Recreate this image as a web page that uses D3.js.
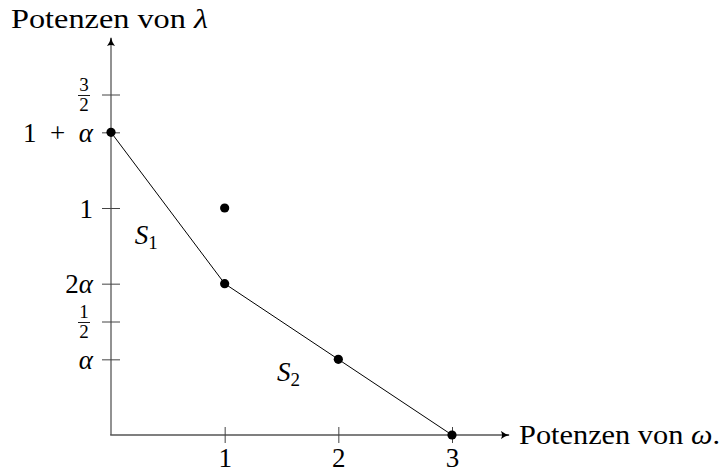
<!DOCTYPE html>
<html>
<head>
<meta charset="utf-8">
<script src="https://cdn.jsdelivr.net/npm/d3@7"></script>
<style>
  html, body { margin: 0; padding: 0; background: #fff; }
  svg { display: block; }
</style>
</head>
<body>
<script>
// Newton polygon data: exponents of omega (x) and lambda (y)
const alpha = 1 / 3;
const pointX = [0, 1, 1, 2, 3];
const pointY = [1 + alpha, 1, 2 * alpha, alpha, 0];
const hullX = [0, 1, 2, 3];
const hullY = [1 + alpha, 2 * alpha, alpha, 0];
const xTickValues = [1, 2, 3];
const xTickLabels = ["1", "2", "3"];
const yTickValues = [alpha, 0.5, 2 * alpha, 1, 1 + alpha, 1.5];
const yTickLabels = ["α", "1/2", "2α", "1", "1 + α", "3/2"];
const segLabels = ["S1", "S2"];
const segLabelX = [0.21, 1.46];
const segLabelY = [0.84, 0.24];

const SERIF = "Liberation Serif";
const W = 725, H = 475;
const svg = d3.select("body").append("svg").attr("width", W).attr("height", H)
  .attr("font-family", SERIF);

const x = d3.scaleLinear().domain([0, 3]).range([111, 452]);
const y = d3.scaleLinear().domain([0, 1]).range([435, 208]);

// arrow head shared by both axes
const defs = svg.append("defs");
defs.append("marker")
  .attr("id", "arr").attr("viewBox", "0 0 10 10")
  .attr("refX", 9).attr("refY", 5)
  .attr("markerWidth", 9).attr("markerHeight", 9)
  .attr("markerUnits", "userSpaceOnUse")
  .attr("orient", "auto")
  .append("path")
  .attr("d", "M0,0.5 Q4,4 10,5 Q4,6 0,9.5 Q2.5,5 0,0.5 Z")
  .attr("fill", "#000");

// axis lines
svg.append("line")
  .attr("x1", x(0)).attr("y1", y(0)).attr("x2", x(0)).attr("y2", 38)
  .attr("stroke", "#777").attr("stroke-width", 1.6)
  .attr("marker-end", "url(#arr)");
svg.append("line")
  .attr("x1", x(0) - 0.8).attr("y1", y(0)).attr("x2", 509).attr("y2", y(0))
  .attr("stroke", "#555").attr("stroke-width", 1.6)
  .attr("marker-end", "url(#arr)");

// y axis ticks through d3.axisLeft
const yAxis = svg.append("g")
  .attr("transform", `translate(${x(0)},0)`)
  .call(d3.axisLeft(y).tickValues(yTickValues).tickSize(8).tickFormat(() => ""));
yAxis.attr("font-family", SERIF);
yAxis.select(".domain").remove();
yAxis.selectAll(".tick line").attr("x1", -9).attr("x2", 9)
  .attr("stroke", "#444").attr("stroke-width", 1);
yAxis.selectAll(".tick text").remove();
yAxis.selectAll(".tick").each(function(d, i) {
  const g = d3.select(this);
  const lab = yTickLabels[i];
  if (lab.includes("/")) {
    const [num, den] = lab.split("/");
    g.append("text").attr("x", -27).attr("y", -4).attr("text-anchor", "middle")
      .attr("font-size", 19).attr("fill", "#000").text(num);
    g.append("line").attr("x1", -33).attr("x2", -21).attr("y1", 0.5).attr("y2", 0.5)
      .attr("stroke", "#000").attr("stroke-width", 0.9);
    g.append("text").attr("x", -27).attr("y", 16).attr("text-anchor", "middle")
      .attr("font-size", 19).attr("fill", "#000").text(den);
  } else {
    const t = g.append("text").attr("x", -18).attr("y", 9).attr("text-anchor", "end")
      .attr("font-size", 27).attr("fill", "#000");
    // alpha rendered in italic
    const parts = lab.split("α");
    t.append("tspan").text(parts[0]);
    if (parts.length > 1) t.append("tspan").attr("font-style", "italic").text("α");
    // the binary plus gets wider spacing
    if (lab.includes("+")) t.attr("textLength", 70).attr("lengthAdjust", "spacing");
  }
});

// x axis ticks through d3.axisBottom
const xAxis = svg.append("g")
  .attr("transform", `translate(0,${y(0)})`)
  .call(d3.axisBottom(x).tickValues(xTickValues).tickSize(8).tickFormat((d, i) => xTickLabels[i]));
xAxis.attr("font-family", SERIF).attr("font-size", 27);
xAxis.select(".domain").remove();
xAxis.selectAll(".tick line").attr("y1", -8).attr("y2", 8)
  .attr("stroke", "#444").attr("stroke-width", 1);
xAxis.selectAll(".tick text").attr("y", 32).attr("dy", 0).attr("fill", "#000");

// hull polyline
const line = d3.line().x(i => x(hullX[i])).y(i => y(hullY[i]));
svg.append("path")
  .attr("d", line(d3.range(hullX.length)))
  .attr("fill", "none").attr("stroke", "#000").attr("stroke-width", 1);

// points
svg.selectAll("circle.pt").data(d3.range(pointX.length)).join("circle")
  .attr("class", "pt")
  .attr("cx", i => x(pointX[i])).attr("cy", i => y(pointY[i]))
  .attr("r", 4.6).attr("fill", "#000");

// segment labels
segLabels.forEach((s, i) => {
  const t = svg.append("text").attr("x", x(segLabelX[i])).attr("y", y(segLabelY[i]))
    .attr("font-size", 27).attr("fill", "#000");
  t.append("tspan").attr("font-style", "italic").text(s[0]);
  t.append("tspan").attr("font-size", 19).attr("dy", 5).text(s.slice(1));
});

// axis titles
const ty = svg.append("text").attr("x", 11).attr("y", 28).attr("font-size", 27)
  .attr("fill", "#000").attr("textLength", 197).attr("lengthAdjust", "spacingAndGlyphs");
ty.append("tspan").text("Potenzen von ");
ty.append("tspan").attr("font-style", "italic").text("λ");

const tx = svg.append("text").attr("x", 519).attr("y", 444).attr("font-size", 27)
  .attr("fill", "#000").attr("textLength", 201).attr("lengthAdjust", "spacingAndGlyphs");
tx.append("tspan").text("Potenzen von ");
tx.append("tspan").attr("font-style", "italic").text("ω");
tx.append("tspan").text(".");
</script>
</body>
</html>
